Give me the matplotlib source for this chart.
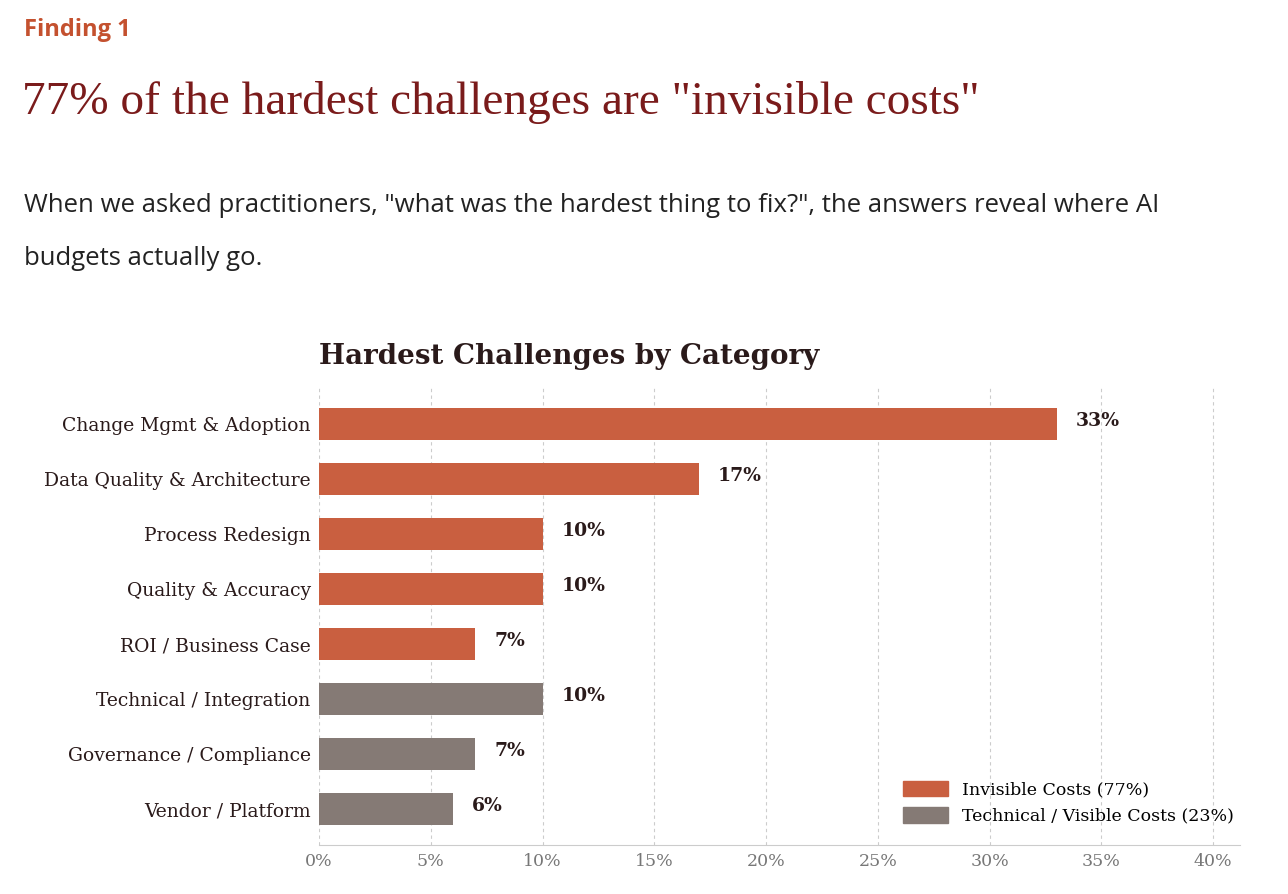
import matplotlib
matplotlib.use("Agg")
import matplotlib.pyplot as plt
from matplotlib.patches import Patch

categories = ["Change Mgmt & Adoption", "Data Quality & Architecture", "Process Redesign",
              "Quality & Accuracy", "ROI / Business Case", "Technical / Integration",
              "Governance / Compliance", "Vendor / Platform"]
values = [33, 17, 10, 10, 7, 10, 7, 6]
groups = ["inv", "inv", "inv", "inv", "inv", "tech", "tech", "tech"]
xticks = [0, 5, 10, 15, 20, 25, 30, 35, 40]

ORANGE = "#C95F40"
GRAY = "#857A75"
colors = [ORANGE if g == "inv" else GRAY for g in groups]

fig = plt.figure(figsize=(12.88, 8.94), dpi=100)
fig.patch.set_facecolor("white")

fig.text(24/1288, 1-30/894, "Finding 1", fontsize=17, fontweight="bold", color="#C4512F",
         family="Open Sans", va="center")
fig.text(22/1288, 1-103/894, "77% of the hardest challenges are \"invisible costs\"", fontsize=34,
         color="#7A1B1B", family="Liberation Serif", va="center")
fig.text(24/1288, 1-206/894, "When we asked practitioners, \"what was the hardest thing to fix?\", the answers reveal where AI",
         fontsize=18.5, color="#222222", family="Open Sans", va="center")
fig.text(24/1288, 1-259/894, "budgets actually go.", fontsize=18.5, color="#222222", family="Open Sans", va="center")

ax = fig.add_axes([319/1288, 1-845/894, (1240-319)/1288, (845-388)/894])
y = list(range(len(categories)))
ax.barh(y, values, height=0.58, color=colors, zorder=3)
for yi, v in zip(y, values):
    ax.text(v + 0.85, yi - 0.05, f"{v}%", va="center", ha="left", fontsize=13.5, fontweight="bold",
            color="#2a1a1a", family="DejaVu Serif")
ax.set_yticks(y)
ax.set_yticklabels(categories, family="DejaVu Serif", fontsize=13.5, color="#2a1a1a")
ax.set_ylim(len(categories) - 0.35, -0.65)
ax.set_xlim(0, 41.2)
ax.set_xticks(xticks)
ax.set_xticklabels([f"{t}%" for t in xticks], family="DejaVu Serif", fontsize=12.5, color="#777777")
ax.tick_params(length=0, pad=6)
ax.xaxis.grid(True, linestyle=(0, (3, 3)), color="#cccccc", linewidth=0.8, zorder=0)
for s in ["top", "right", "left"]:
    ax.spines[s].set_visible(False)
ax.spines["bottom"].set_color("#cccccc")

fig.text(319/1288, 1-356/894, "Hardest Challenges by Category", fontsize=20, fontweight="bold",
         family="DejaVu Serif", color="#2a1a1a", va="center")

handles = [Patch(color=ORANGE, label="Invisible Costs (77%)"),
           Patch(color=GRAY, label="Technical / Visible Costs (23%)")]
ax.legend(handles=handles, loc="lower right", frameon=False, prop={"family": "DejaVu Serif", "size": 12.5},
          handlelength=2.6, handleheight=1.0, bbox_to_anchor=(1.01, 0.01))

fig.savefig("out.png", dpi=100)
